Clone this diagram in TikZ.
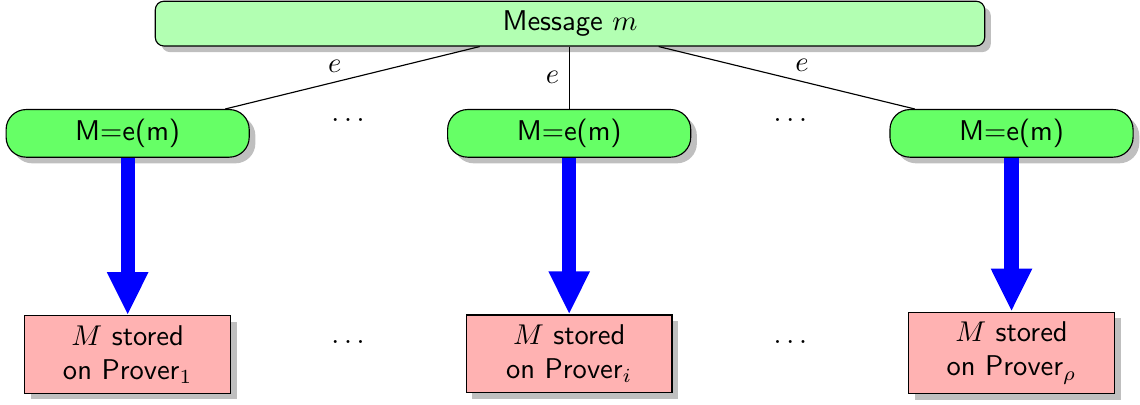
\documentclass[tikz,border=0pt]{standalone}
\usetikzlibrary{shadows,arrows.meta}
\tikzset{
  msgbox/.style={draw, rounded corners=3pt, fill=green!30, drop shadow, minimum width=10.2cm, minimum height=0.53cm, font=\sffamily},
  encbox/.style={draw, rounded corners=7pt, fill=green!60, drop shadow, minimum width=2.99cm, minimum height=0.58cm, font=\sffamily},
  storebox/.style={draw, fill=red!30, drop shadow, minimum width=2.53cm, minimum height=0.95cm, align=center, font=\sffamily},
  bigarrow/.style={draw=blue, line width=5pt, -{Triangle[width=0.47cm,length=0.53cm]}}
}
\begin{document}
\begin{tikzpicture}
  \useasboundingbox (0,0) rectangle (14.02,-4.98);
  \node[msgbox] (msg) at (7.01,-0.29) {Message $m$};
  \node[encbox] (enc1) at (1.57,-1.64) {M=e(m)};
  \node[encbox] (enci) at (7.0,-1.64) {M=e(m)};
  \node[encbox] (encr) at (12.44,-1.64) {M=e(m)};
  \node (dotsA) at (4.28,-1.48) {$\dots$};
  \node (dotsB) at (9.72,-1.48) {$\dots$};
  \draw (msg.south -| 5.9,0) -- node[above, pos=0.57] {$e$} (enc1.north -| 2.77,0);
  \draw (msg.south -| 7.0,0) -- node[left] {$e$} (enci.north);
  \draw (msg.south -| 8.1,0) -- node[above, pos=0.56] {$e$} (encr.north -| 11.25,0);
  \node[storebox] (st1) at (1.57,-4.36) {$M$ stored\\on Prover$_1$};
  \node[storebox] (sti) at (7.0,-4.35) {$M$ stored\\on Prover$_i$};
  \node[storebox] (str) at (12.44,-4.34) {$M$ stored\\on Prover$_\rho$};
  \node (dotsC) at (4.28,-4.2) {$\dots$};
  \node (dotsD) at (9.72,-4.2) {$\dots$};
  \draw[bigarrow] (enc1.south) -- (st1.north);
  \draw[bigarrow] (enci.south) -- (sti.north);
  \draw[bigarrow] (encr.south) -- (str.north);
\end{tikzpicture}
\end{document}
